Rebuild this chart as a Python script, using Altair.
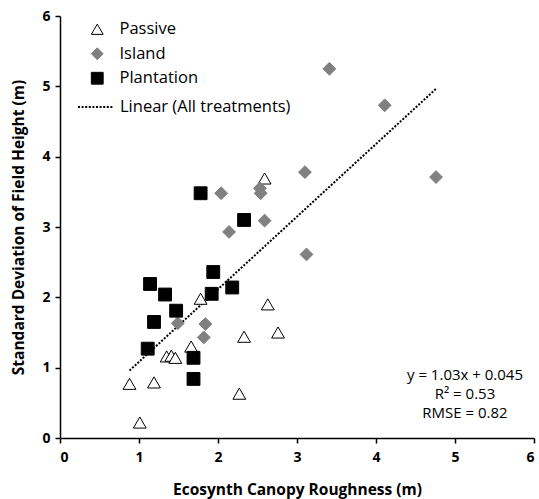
import altair as alt
import pandas as pd

# ---- data ----
passive_x = [0.88, 1.01, 1.19, 1.35, 1.41, 1.46, 1.66, 1.78, 2.27, 2.33, 2.63, 2.76, 2.59]
passive_y = [0.77, 0.22, 0.79, 1.16, 1.17, 1.14, 1.30, 1.98, 0.63, 1.44, 1.90, 1.50, 3.69]

island_x = [1.49, 1.84, 1.82, 2.04, 2.53, 2.54, 2.59, 2.14, 3.41, 4.11, 3.10, 4.76, 3.12]
island_y = [1.63, 1.62, 1.43, 3.48, 3.55, 3.48, 3.09, 2.93, 5.25, 4.73, 3.78, 3.71, 2.61]

plantation_x = [1.14, 1.33, 1.47, 1.19, 1.11, 1.69, 1.69, 1.94, 1.92, 2.18, 1.78, 2.33]
plantation_y = [2.19, 2.04, 1.81, 1.65, 1.27, 1.14, 0.84, 2.36, 2.05, 2.14, 3.48, 3.10]

groups = ["Passive", "Island", "Plantation"]
trend_label = "Linear (All treatments)"
annotation_lines = ["y = 1.03x + 0.045", "R\u00b2 = 0.53", "RMSE = 0.82"]
axis_ticks = [0, 1, 2, 3, 4, 5, 6]

rows = []
for g, xs_, ys_ in [("Passive", passive_x, passive_y),
                    ("Island", island_x, island_y),
                    ("Plantation", plantation_x, plantation_y)]:
    for a, b in zip(xs_, ys_):
        rows.append({"x": a, "y": b, "group": g})
df = pd.DataFrame(rows)

FONT = "Open Sans"
W, H = 474, 422

xs = alt.Scale(domain=[0, 6], nice=False, zero=False)
ys = alt.Scale(domain=[0, 6], nice=False, zero=False)

x_enc = alt.X("x:Q", scale=xs, axis=alt.Axis(
    title="Ecosynth Canopy Roughness (m)", values=axis_ticks, format="d",
    titleY=51, titleBaseline="middle", labelPadding=7))
y_enc = alt.Y("y:Q", scale=ys, axis=alt.Axis(
    title="Standard Deviation of Field Height (m)", values=axis_ticks, format="d",
    titleX=-42, titleY=H / 2, titleAngle=-90, titleBaseline="middle",
    titleAlign="center", labelPadding=5))

leg = alt.Legend(orient="none", legendX=29, legendY=5, title=None,
                 labelFont=FONT, labelFontSize=16.5, labelColor="black",
                 labelLimit=400,
                 symbolSize=140, symbolStrokeWidth=1, rowPadding=7.5,
                 padding=0, labelOffset=14)

points = alt.Chart(df).mark_point(filled=True, size=165, strokeWidth=1, opacity=1).encode(
    x=x_enc, y=y_enc,
    shape=alt.Shape("group:N", scale=alt.Scale(domain=groups, range=["triangle-up", "diamond", "square"]), legend=leg),
    fill=alt.Fill("group:N", scale=alt.Scale(domain=groups, range=["white", "#808080", "black"]), legend=leg),
    stroke=alt.Stroke("group:N", scale=alt.Scale(domain=groups, range=["black", "#808080", "black"]), legend=leg),
)

line_leg = alt.Legend(orient="none", legendX=17, legendY=72, title=None,
                      labelFont=FONT, labelFontSize=16.5, labelColor="black",
                      labelLimit=400,
                      symbolType="stroke", symbolSize=1296, symbolStrokeWidth=2,
                      symbolStrokeColor="black", padding=0, labelOffset=5)

trend = alt.Chart(df).transform_regression("x", "y").transform_calculate(
    label=f'"{trend_label}"'
).mark_line(color="black", strokeWidth=2).encode(
    x=alt.X("x:Q", scale=xs),
    y=alt.Y("y:Q", scale=ys),
    strokeDash=alt.StrokeDash("label:N", scale=alt.Scale(domain=[trend_label], range=[[2, 1.6]]), legend=line_leg),
)

ann_df = pd.DataFrame({"t": [0]})
ann_layers = []
for i, txt in enumerate(annotation_lines):
    ann_layers.append(
        alt.Chart(ann_df).mark_text(font=FONT, fontSize=15, color="black",
                                    align="center", baseline="middle").encode(
            x=alt.value(405), y=alt.value(359 + 19 * i), text=alt.value(txt))
    )

chart = alt.layer(trend, points, *ann_layers).resolve_legend(
    strokeDash="independent"
).properties(
    width=W, height=H,
    autosize=alt.AutoSizeParams(type="none"),
    padding={"left": 60, "top": 16, "right": 5, "bottom": 61},
).configure_view(stroke=None).configure_axis(
    grid=False, domainColor="black", domainWidth=1.5, tickColor="black",
    tickWidth=1.5, tickSize=5, labelFont=FONT, labelFontSize=14,
    labelFontWeight="bold", labelColor="black", titleFont=FONT,
    titleFontSize=15.5, titleFontWeight="bold", titleColor="black",
)

chart.save("out.html", embed_options={"renderer": "svg", "actions": False})
